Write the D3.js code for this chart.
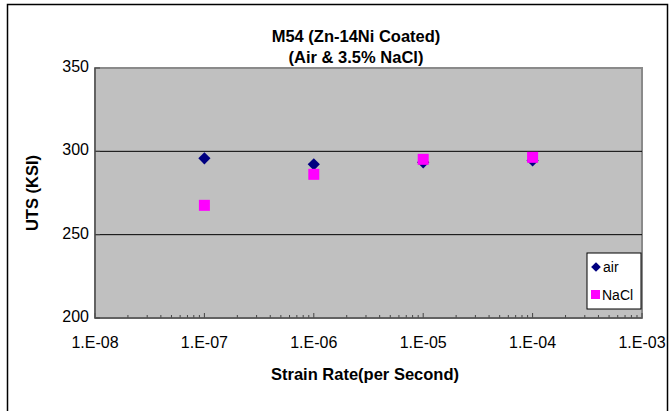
<!DOCTYPE html>
<html>
<head>
<meta charset="utf-8">
<script src="https://cdn.jsdelivr.net/npm/d3@7"></script>
<style>
  body { margin: 0; background: #fff; }
  text { font-family: Arial, "Liberation Sans", sans-serif; }
</style>
</head>
<body>
<div id="chart"></div>
<script>
// data
var rates = [1e-7, 1e-6, 1e-5, 1e-4];
var airUTS = [295.8, 292.2, 293.4, 294.5];
var naclUTS = [267.6, 286.2, 295.2, 296.4];
var yTicks = [200, 250, 300, 350];
var xTicks = [1e-8, 1e-7, 1e-6, 1e-5, 1e-4, 1e-3];
var xTickLabels = ["1.E-08", "1.E-07", "1.E-06", "1.E-05", "1.E-04", "1.E-03"];

var svgWidth = 671;
var svgHeight = 411;
var margin = {top: 68, right: 29, bottom: 93, left: 95};
var width = svgWidth - margin.left - margin.right;
var height = svgHeight - margin.top - margin.bottom;

var svg = d3.select("#chart")
    .append("svg")
    .attr("width", svgWidth)
    .attr("height", svgHeight);

// outer frame
svg.append("rect")
    .attr("x", 7.5).attr("y", 4.5)
    .attr("width", 660).attr("height", 420)
    .attr("fill", "none")
    .attr("stroke", "#000")
    .attr("stroke-width", 1.5);

var chart = svg.append("g")
    .attr("transform", "translate(" + margin.left + "," + margin.top + ")");

var x = d3.scaleLog().domain([1e-8, 1e-3]).range([0, width]);
var y = d3.scaleLinear().domain([200, 350]).range([height, 0]);

// plot area
chart.append("rect")
    .attr("width", width).attr("height", height)
    .attr("fill", "#c0c0c0")
    .attr("stroke", "#8a8a8a")
    .attr("stroke-width", 2);

// gridlines
chart.selectAll(".grid")
    .data([250, 300])
    .enter()
    .append("line")
    .attr("x1", 0).attr("x2", width)
    .attr("y1", d => y(d)).attr("y2", d => y(d))
    .attr("stroke", "#000")
    .attr("stroke-width", 1);

// x axis: minor ticks inside
var minor = [];
for (var e = -8; e < -3; e++) {
    for (var m = 2; m < 10; m++) minor.push(m * Math.pow(10, e));
}
chart.selectAll(".minor")
    .data(minor)
    .enter()
    .append("line")
    .attr("x1", d => x(d)).attr("x2", d => x(d))
    .attr("y1", height).attr("y2", height - 3)
    .attr("stroke", "#444");
chart.selectAll(".major")
    .data(xTicks)
    .enter()
    .append("line")
    .attr("x1", d => x(d)).attr("x2", d => x(d))
    .attr("y1", height).attr("y2", height - 5)
    .attr("stroke", "#444");

chart.append("line")
    .attr("x1", 0).attr("x2", width)
    .attr("y1", height).attr("y2", height)
    .attr("stroke", "#555").attr("stroke-width", 1.5);
chart.append("line")
    .attr("x1", 0).attr("x2", 0)
    .attr("y1", 0).attr("y2", height)
    .attr("stroke", "#555").attr("stroke-width", 1.5);

// y ticks inside
chart.selectAll(".ytick")
    .data(yTicks)
    .enter()
    .append("line")
    .attr("x1", 0).attr("x2", 5)
    .attr("y1", d => y(d)).attr("y2", d => y(d))
    .attr("stroke", "#444");

chart.selectAll(".ylab")
    .data(yTicks)
    .enter()
    .append("text")
    .attr("x", -6)
    .attr("y", d => y(d) + 4)
    .attr("text-anchor", "end")
    .style("font-size", "16px")
    .text(d => d);

chart.selectAll(".xlab")
    .data(xTicks)
    .enter()
    .append("text")
    .attr("x", d => x(d))
    .attr("y", height + 30)
    .attr("text-anchor", "middle")
    .style("font-size", "16px")
    .text((d, i) => xTickLabels[i]);

// points: air (diamond) then NaCl (square) on top
chart.selectAll(".air")
    .data(rates)
    .enter()
    .append("path")
    .attr("d", d3.symbol().type(d3.symbolDiamond2).size(95))
    .attr("transform", (d, i) => "translate(" + x(d) + "," + y(airUTS[i]) + ")")
    .attr("fill", "#000080");

chart.selectAll(".nacl")
    .data(rates)
    .enter()
    .append("rect")
    .attr("x", d => x(d) - 5.5)
    .attr("y", (d, i) => y(naclUTS[i]) - 5.5)
    .attr("width", 11).attr("height", 11)
    .attr("fill", "#ff00ff");

// legend
var legend = svg.append("g").attr("transform", "translate(587,253)");
legend.append("rect")
    .attr("width", 54).attr("height", 56)
    .attr("fill", "#fff").attr("stroke", "#000");
legend.append("path")
    .attr("d", d3.symbol().type(d3.symbolDiamond2).size(60))
    .attr("transform", "translate(9,14)")
    .attr("fill", "#000080");
legend.append("text").attr("x", 16).attr("y", 19)
    .style("font-size", "14px").text("air");
legend.append("rect")
    .attr("x", 4).attr("y", 37).attr("width", 9).attr("height", 9)
    .attr("fill", "#ff00ff");
legend.append("text").attr("x", 15).attr("y", 47)
    .style("font-size", "14px").text("NaCl");

// titles
svg.append("text")
    .attr("x", 356).attr("y", 42)
    .attr("text-anchor", "middle")
    .style("font-size", "16.5px").style("font-weight", "bold")
    .text("M54 (Zn-14Ni Coated)");
svg.append("text")
    .attr("x", 356).attr("y", 63)
    .attr("text-anchor", "middle")
    .style("font-size", "16.5px").style("font-weight", "bold")
    .text("(Air & 3.5% NaCl)");

svg.append("text")
    .attr("x", 365).attr("y", 380)
    .attr("text-anchor", "middle")
    .style("font-size", "16.5px").style("font-weight", "bold")
    .text("Strain Rate(per Second)");

svg.append("text")
    .attr("transform", "translate(38,193) rotate(-90)")
    .attr("text-anchor", "middle")
    .style("font-size", "16.5px").style("font-weight", "bold")
    .text("UTS (KSI)");
</script>
</body>
</html>
